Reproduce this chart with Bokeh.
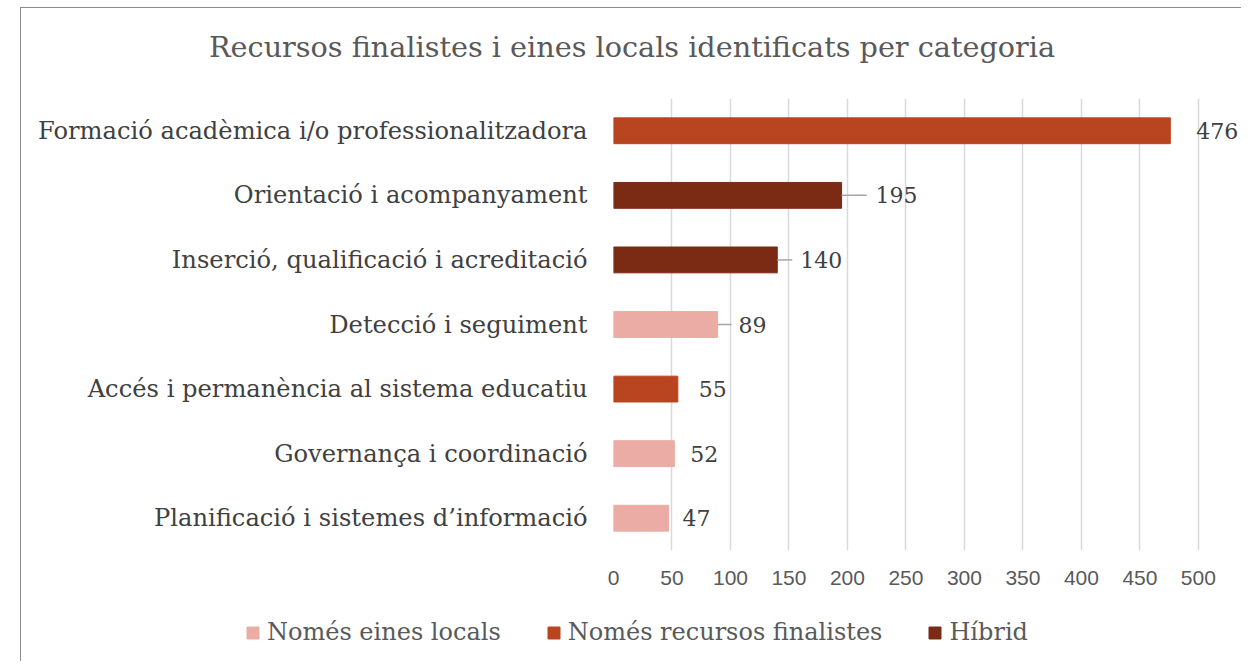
from bokeh.plotting import figure
from bokeh.layouts import column
from bokeh.models import (ColumnDataSource, Range1d, FactorRange, LabelSet, Label,
                          Legend, LegendItem, FixedTicker)
from bokeh.embed import file_html
from bokeh.resources import INLINE
from bokeh.core.properties import value

title_text = "Recursos finalistes i eines locals identificats per categoria"
categories = [
    "Formació acadèmica i/o professionalitzadora",
    "Orientació i acompanyament",
    "Inserció, qualificació i acreditació",
    "Detecció i seguiment",
    "Accés i permanència al sistema educatiu",
    "Governança i coordinació",
    "Planificació i sistemes d’informació",
]
values = [476, 195, 140, 89, 55, 52, 47]
types = [
    "Només recursos finalistes",
    "Híbrid",
    "Híbrid",
    "Només eines locals",
    "Només recursos finalistes",
    "Només eines locals",
    "Només eines locals",
]
series = ["Només eines locals", "Només recursos finalistes", "Híbrid"]
x_ticks = [0, 50, 100, 150, 200, 250, 300, 350, 400, 450, 500]

# styling
colors = {"Només eines locals": "#EAACA4",
          "Només recursos finalistes": "#B94420",
          "Híbrid": "#7B2A14"}
label_offsets = [26, 34, 23, 21, 21, 16, 14]   # px gap between bar end and value label
leader_px = [0, 25, 15, 14, 0, 0, 0]            # px length of leader lines
PX_PER_UNIT = 627 / 536

SERIF = "DejaVu Serif"
W = 1220


def strip(height, x_range, y_range):
    f = figure(width=W, height=height, output_backend="svg", toolbar_location=None,
               x_range=x_range, y_range=y_range, min_border=0,
               min_border_left=0, min_border_right=0,
               min_border_top=0, min_border_bottom=0)
    if "frame_align" in f.properties():
        f.frame_align = False
    f.axis.visible = False
    f.grid.visible = False
    f.outline_line_color = None
    f.background_fill_color = "white"
    f.border_fill_color = "white"
    return f


# ---- title strip (pixel coordinates) ----
TH = 80
tt = strip(TH, Range1d(0, W), Range1d(0, TH))
tt.add_layout(Label(x=610.5, y=TH - 38, text=title_text, text_font=SERIF,
                    text_font_size="28.7px", text_color="#595959",
                    text_align="center", text_baseline="middle"))

# ---- main chart ----
p = figure(width=W, height=513, output_backend="svg", toolbar_location=None,
           x_range=Range1d(0, 536), y_range=FactorRange(factors=categories[::-1]),
           min_border_left=592, min_border_right=1, min_border_top=10,
           min_border_bottom=51)
if "frame_align" in p.properties():
    p.frame_align = False
p.outline_line_color = None
p.background_fill_color = "white"
p.border_fill_color = "white"

# grid
p.ygrid.grid_line_color = None
p.xgrid.ticker = FixedTicker(ticks=x_ticks)
p.xgrid.grid_line_color = "#D9D9D9"
p.xgrid.grid_line_width = 1.5

# x axis
p.xaxis.ticker = FixedTicker(ticks=x_ticks)
p.xaxis.axis_line_color = None
p.xaxis.major_tick_line_color = None
p.xaxis.minor_tick_line_color = None
p.xaxis.major_label_text_font = "Liberation Sans"
p.xaxis.major_label_text_font_size = "21px"
p.xaxis.major_label_text_color = "#595959"
p.xaxis.major_label_standoff = 14

# y axis
p.yaxis.axis_line_color = None
p.yaxis.major_tick_line_color = None
p.yaxis.minor_tick_line_color = None
p.yaxis.major_label_text_font = SERIF
p.yaxis.major_label_text_font_size = "24.2px"
p.yaxis.major_label_text_color = "#404040"
p.yaxis.major_label_standoff = 20

# bars
sources = {}
for s in series:
    idx = [i for i, t in enumerate(types) if t == s]
    src = ColumnDataSource(dict(y=[categories[i] for i in idx],
                                right=[values[i] for i in idx]))
    sources[s] = src
    p.hbar(y="y", left=0, right="right", height=0.4, source=src,
           fill_color=colors[s], line_color=colors[s])

# leader lines
lead_idx = [i for i in range(len(values)) if leader_px[i] > 0]
lead_src = ColumnDataSource(dict(
    y=[categories[i] for i in lead_idx],
    x0=[values[i] for i in lead_idx],
    x1=[values[i] + leader_px[i] / PX_PER_UNIT for i in lead_idx]))
p.segment(x0="x0", x1="x1", y0="y", y1="y", source=lead_src,
          line_color="#A6A6A6", line_width=1.5)

# value labels
lab_src = ColumnDataSource(dict(y=categories, x=values,
                                t=[str(v) for v in values], off=label_offsets))
p.add_layout(LabelSet(x="x", y="y", text="t", x_offset="off", source=lab_src,
                      text_font=value(SERIF), text_font_size="22px",
                      text_color="#404040", text_baseline="middle",
                      text_align="left"))

# ---- legend strip ----
lg = strip(60, Range1d(-2, -1), FactorRange(factors=categories[::-1]))
items = []
for s in series:
    # same series data; the x range keeps these bars out of view, only the legend shows
    r = lg.hbar(y="y", left=0, right="right", height=0.4, source=sources[s],
                fill_color=colors[s], line_color=colors[s])
    items.append(LegendItem(label=s, renderers=[r]))
legend = Legend(items=items, location=(224, 15), orientation="horizontal",
                spacing=45, glyph_width=15, glyph_height=15, label_standoff=7,
                padding=0, margin=0, border_line_color=None,
                background_fill_alpha=0, label_height=20,
                label_text_font=SERIF, label_text_font_size="24px",
                label_text_color="#595959")
lg.add_layout(legend)

layout = column(tt, p, lg, spacing=0)
layout.styles = {"margin-left": "20px", "margin-top": "7px",
                 "border-left": "1px solid #8c8c8c",
                 "border-top": "1px solid #8c8c8c"}

open("out.html", "w").write(file_html(layout, INLINE))
